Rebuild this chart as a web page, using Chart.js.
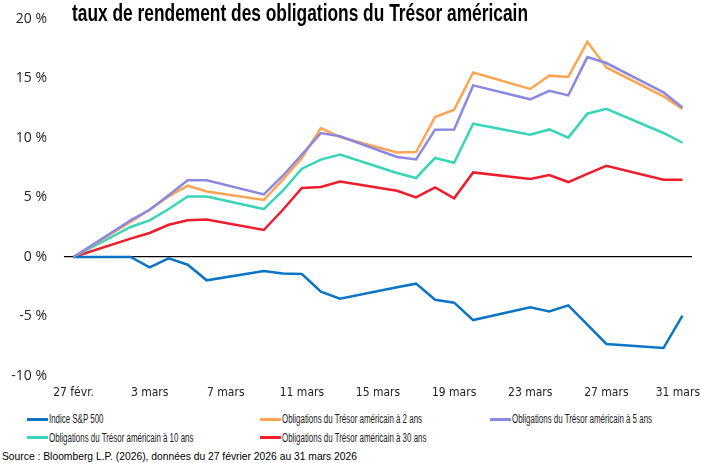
<!DOCTYPE html>
<html>
<head>
<meta charset="utf-8">
<script src="https://cdn.jsdelivr.net/npm/chart.js@4.4.1/dist/chart.umd.min.js"></script>
<style>
  body { margin: 0; width: 701px; height: 463px; position: relative; overflow: hidden; background: #fff; }
  .fit { display: inline-block; white-space: nowrap; transform-origin: 0 50%; }
  #title { position: absolute; left: 72px; top: 0px; line-height: 24px; font: bold 23px "Liberation Sans", sans-serif; color: #000; z-index: 2; }
  #wrap { position: absolute; left: 0; top: 0; width: 701px; height: 405px; }
  #legend { position: absolute; left: 27px; top: 410px; display: grid; grid-template-columns: 233px 230px 200px; grid-auto-rows: 18.5px; font: 12.5px "Liberation Sans", sans-serif; color: #1a1a1a; }
  #legend div { display: flex; align-items: center; white-space: nowrap; }
  #legend span.key { display: inline-block; flex: 0 0 21px; height: 3px; margin-right: 1px; }
  #source { position: absolute; left: 2px; top: 450px; font: 11px "Liberation Sans", sans-serif; color: #000; }
</style>
</head>
<body>
<div id="title"><span class="fit" id="titleText">taux de rendement des obligations du Trésor américain</span></div>
<div id="wrap"><canvas id="chart" width="701" height="405"></canvas></div>
<div id="legend"></div>
<div id="source"><span class="fit" id="sourceText">Source : Bloomberg L.P. (2026), données du 27 février 2026 au 31 mars 2026</span></div>
<script>
// calendar days, 27 févr. -> 31 mars 2026 (weekends left empty)
const labels = [
  "27 févr.", "28 févr.", "1 mars", "2 mars", "3 mars", "4 mars", "5 mars", "6 mars", "7 mars",
  "8 mars", "9 mars", "10 mars", "11 mars", "12 mars", "13 mars", "14 mars", "15 mars", "16 mars",
  "17 mars", "18 mars", "19 mars", "20 mars", "21 mars", "22 mars", "23 mars", "24 mars", "25 mars",
  "26 mars", "27 mars", "28 mars", "29 mars", "30 mars", "31 mars"
];

const names = [
  "Indice S&P 500",
  "Obligations du Trésor américain à 2 ans",
  "Obligations du Trésor américain à 5 ans",
  "Obligations du Trésor américain à 10 ans",
  "Obligations du Trésor américain à 30 ans"
];
const colors = ["#0b74c4", "#ffa552", "#8b88e2", "#38d5b6", "#ee1d2b"];

const sp500 = [0, null, null, 0.0, -0.87, -0.11, -0.65, -1.96, null, null, -1.18, -1.38, -1.43, -2.92, -3.5,
  null, null, -2.55, -2.24, -3.59, -3.84, -5.3, null, null, -4.23, -4.57, -4.06, -5.69, -7.31, null, null, -7.65, -4.93];
const t2 = [0, null, null, 2.94, 3.97, 5.09, 5.99, 5.51, null, null, 4.79, 6.5, 8.32, 10.84, 10.08,
  null, null, 8.79, 8.82, 11.76, 12.38, 15.5, null, null, 14.12, 15.24, 15.13, 18.09, 15.93, null, null, 13.5, 12.43];
const t5 = [0, null, null, 3.08, 3.97, 5.18, 6.44, 6.44, null, null, 5.26, 6.83, 8.6, 10.42, 10.14,
  null, null, 8.4, 8.2, 10.7, 10.72, 14.42, null, null, 13.25, 13.97, 13.58, 16.8, 16.3, null, null, 13.83, 12.57];
const t10 = [0, null, null, 2.52, 3.08, 4.03, 5.09, 5.09, null, null, 4.03, 5.57, 7.42, 8.18, 8.6,
  null, null, 7.06, 6.64, 8.32, 7.92, 11.2, null, null, 10.28, 10.72, 10.03, 12.04, 12.46, null, null, 10.42, 9.6];
const t30 = [0, null, null, 1.54, 2.02, 2.71, 3.08, 3.16, null, null, 2.27, 3.97, 5.8, 5.88, 6.35,
  null, null, 5.57, 5.01, 5.85, 4.93, 7.11, null, null, 6.55, 6.89, 6.3, 6.99, 7.67, null, null, 6.5, 6.5];

const series = [sp500, t2, t5, t10, t30];
const yTicks = [-10, -5, 0, 5, 10, 15, 20];

// squeeze a text span to a given width (the original uses a condensed face)
function fitWidth(el, w) {
  el.style.transform = "scaleX(" + (w / el.getBoundingClientRect().width) + ")";
}

// legend built in html so the three columns line up
const legend = document.getElementById("legend");
const legendText = [];
names.forEach((n, i) => {
  const d = document.createElement("div");
  d.innerHTML = '<span class="key" style="background:' + colors[i] + '"></span><span class="fit">' + n + "</span>";
  legend.appendChild(d);
  legendText.push(d.querySelector(".fit"));
});
const squeeze = 140 / legendText[1].getBoundingClientRect().width;
legendText.forEach(el => { el.style.transform = "scaleX(" + squeeze + ")"; });

fitWidth(document.getElementById("titleText"), 456);
fitWidth(document.getElementById("sourceText"), 355);

const tickFont = '"DejaVu Sans Condensed", "Liberation Sans", sans-serif';

// keep the last date label inside the canvas
const lastLabelInside = {
  id: "lastLabelInside",
  beforeDraw(chart) {
    const items = chart.scales.x.getLabelItems();
    const last = items[items.length - 1];
    if (last) {
      last.options.textAlign = "right";
      last.options.translation[0] = chart.width - 1;
    }
  }
};

new Chart(document.getElementById("chart"), {
  type: "line",
  data: {
    labels: labels,
    datasets: series.map((s, i) => ({
      label: names[i],
      data: s,
      borderColor: colors[i],
      borderWidth: 2.5,
      pointRadius: 0,
      tension: 0,
      spanGaps: true,
      order: i === 2 ? 0 : 1
    }))
  },
  options: {
    responsive: false,
    animation: false,
    layout: { padding: { top: 19, right: 9, left: 0, bottom: 0 } },
    plugins: { legend: { display: false }, tooltip: { enabled: false } },
    scales: {
      x: {
        offset: true,
        grid: { display: false, drawTicks: false },
        border: { display: false },
        afterFit: s => { s.height = 29; s.paddingLeft = 0; s.paddingRight = 0; },
        ticks: {
          autoSkip: false,
          maxRotation: 0,
          padding: 10,
          color: "#222",
          font: { family: tickFont, size: 12 },
          callback: (v, i) => (i % 4 === 0 ? labels[i] : "")
        }
      },
      y: {
        min: -10,
        max: 20,
        afterBuildTicks: s => { s.ticks = yTicks.map(v => ({ value: v })); },
        afterFit: s => { s.width = 64; s.paddingTop = 0; s.paddingBottom = 0; },
        grid: {
          drawTicks: false,
          color: c => (c.tick && c.tick.value === 0 ? "#000" : "transparent"),
          lineWidth: 1.2
        },
        border: { display: false },
        ticks: {
          padding: 17,
          color: "#222",
          font: { family: "Open Sans", size: 14 },
          callback: v => v + " %"
        }
      }
    }
  },
  plugins: [lastLabelInside]
});
</script>
</body>
</html>
